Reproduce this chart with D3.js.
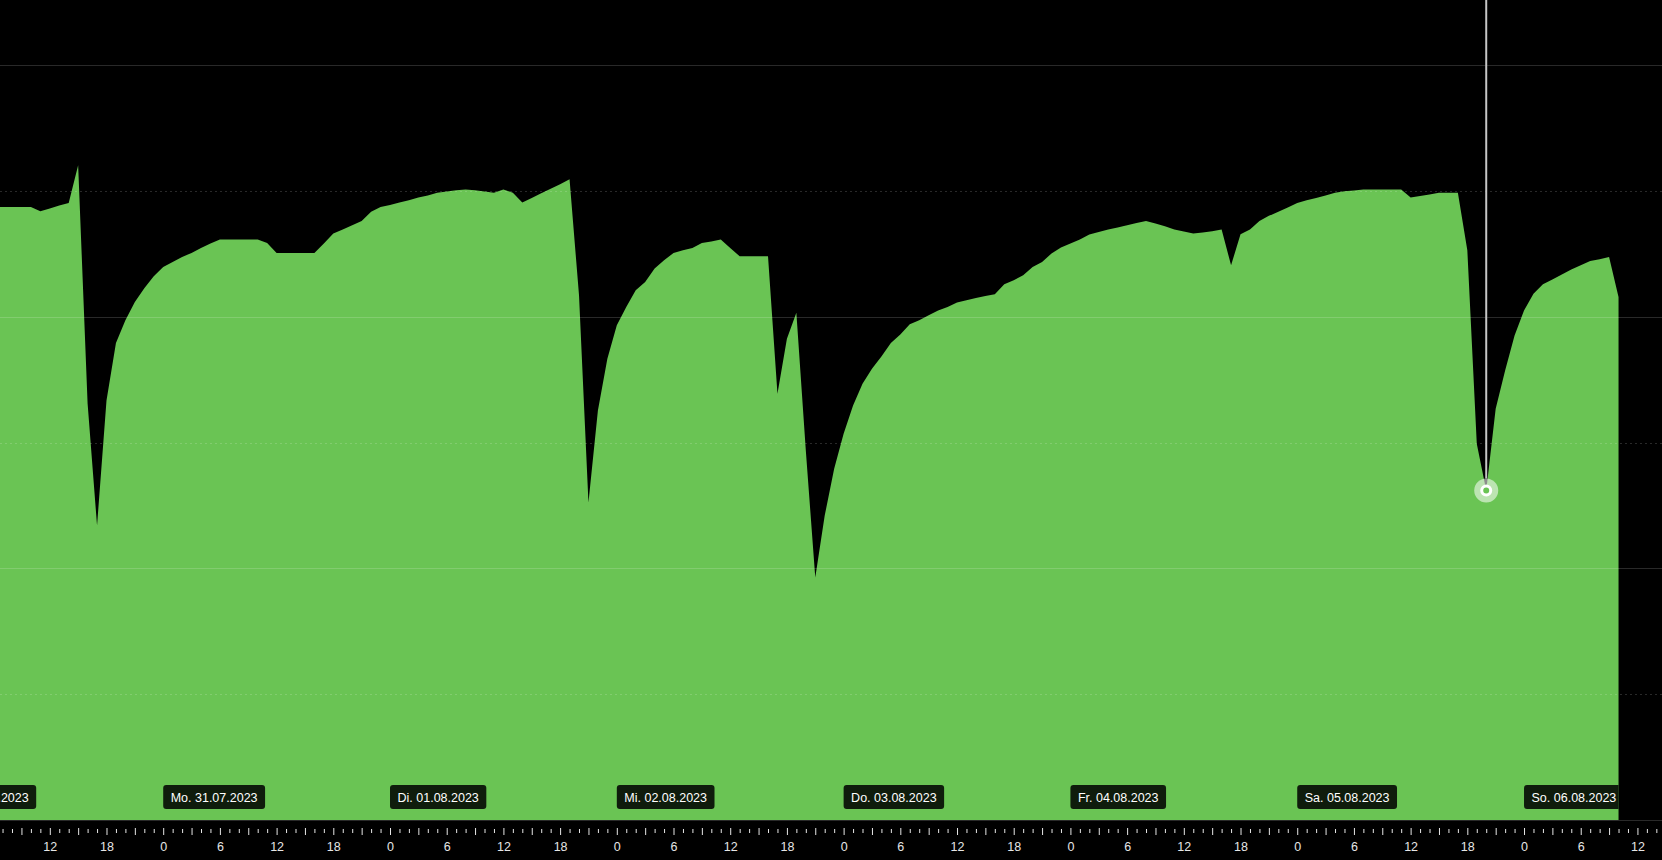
<!DOCTYPE html>
<html><head><meta charset="utf-8">
<script src="https://cdn.jsdelivr.net/npm/d3@7"></script>
<style>html,body{margin:0;padding:0;background:#000;overflow:hidden}</style>
</head><body><svg id="chart" width="1662" height="860"></svg>
<script>
// ---------- data ----------
const seriesStart = "2023-07-30T06:00:00";   // first hourly reading
const values = [
 48.72,48.72,48.72,48.72,48.72,48.38,48.60,48.84,49.04,52.04,
 33.10,23.40,33.34,37.90,39.71,41.16,42.25,43.21,
 43.95,44.35,44.75,45.06,45.46,45.81,46.13,46.13,46.13,46.13,46.13,45.86,
 45.06,45.06,45.06,45.06,45.06,45.81,46.61,46.93,47.27,47.61,48.33,48.72,
 48.88,49.07,49.26,49.47,49.63,49.84,49.95,50.05,50.11,50.05,49.95,49.84,
 50.11,49.84,49.07,49.44,49.81,50.16,50.53,50.93,41.70,25.23,32.55,36.66,
 39.31,40.77,42.10,42.76,43.82,44.48,45.06,45.28,45.46,45.86,45.97,46.13,
 45.46,44.80,44.80,44.80,44.80,33.88,38.25,40.32,29.36,19.28,24.19,27.91,
 30.69,32.94,34.67,35.86,36.84,37.90,38.59,39.39,39.71,40.11,40.50,40.77,
 41.12,41.30,41.48,41.64,41.78,42.57,42.89,43.29,43.95,44.35,45.02,45.49,
 45.81,46.13,46.53,46.73,46.93,47.08,47.27,47.45,47.61,47.40,47.19,46.93,
 46.77,46.61,46.69,46.79,46.93,44.08,46.55,46.93,47.61,48.01,48.33,48.68,
 49.04,49.26,49.44,49.63,49.84,49.97,50.03,50.11,50.11,50.11,50.11,50.11,
 49.47,49.58,49.71,49.84,49.84,49.84,45.28,29.90,26.18,32.68,35.73,38.51,
 40.50,41.83,42.57,42.95,43.35,43.74,44.08,44.43,44.56,44.75,41.56
];
const dayStarts = ["2023-07-30","2023-07-31","2023-08-01","2023-08-02","2023-08-03","2023-08-04","2023-08-05","2023-08-06"];
const dayLabels = ["So. 30.07.2023","Mo. 31.07.2023","Di. 01.08.2023","Mi. 02.08.2023","Do. 03.08.2023","Fr. 04.08.2023","Sa. 05.08.2023","So. 06.08.2023"];
const hourLabelEvery = 6;
const viewStart = "2023-07-30T06:43:50";
const viewEnd   = "2023-08-06T14:36:00";
const gridValues = [0,10,20,30,40,50,60];
const cursorTime = "2023-08-05T20:00:00";

// ---------- setup ----------
const W = 1662, H = 860;
const plotTop = 65, plotBottom = 820;
const green = "#6ac454";
const svg = d3.select("#chart");
svg.append("rect").attr("width", W).attr("height", H).attr("fill", "#000");

const t0 = new Date(seriesStart);
const data = values.map((v, i) => ({ t: new Date(t0.getTime() + i * 3600e3), v }));

const x = d3.scaleTime().domain([new Date(viewStart), new Date(viewEnd)]).range([0, W]);
const y = d3.scaleLinear().domain([0, 60]).range([plotBottom, plotTop]);

// area
const area = d3.area().x(d => x(d.t)).y0(y(0)).y1(d => y(d.v));
svg.append("path").datum(data).attr("d", area).attr("fill", green);

// gridlines (drawn over the area)
svg.append("g").selectAll("line").data(gridValues).join("line")
  .attr("x1", 0).attr("x2", W)
  .attr("y1", d => Math.round(y(d)) + 0.5).attr("y2", d => Math.round(y(d)) + 0.5)
  .attr("stroke", "rgba(255,255,255,0.16)").attr("stroke-width", 1)
  .attr("stroke-dasharray", d => (d % 20 === 0) ? null : "2,3");

// date label boxes, clipped to data extent
const lastX = x(data[data.length - 1].t);
svg.append("clipPath").attr("id", "dclip").append("rect")
  .attr("x", 0).attr("y", 0).attr("width", lastX).attr("height", H);
const dg = svg.append("g").attr("clip-path", "url(#dclip)");
dayStarts.forEach((ds, i) => {
  const px = x(new Date(ds + "T00:00:00"));
  const g = dg.append("g");
  const rect = g.append("rect").attr("x", px).attr("y", 785).attr("height", 24)
    .attr("rx", 3).attr("ry", 3).attr("fill", "rgba(0,0,0,0.86)");
  const txt = g.append("text").attr("x", px + 7.5).attr("y", 801.5)
    .attr("fill", "#ffffff").attr("font-family", "'Liberation Sans', Arial, sans-serif")
    .attr("font-size", "12.5px").text(dayLabels[i]);
  rect.attr("width", txt.node().getComputedTextLength() + 15);
});

// bottom time axis
const axis = d3.axisBottom(x)
  .ticks(d3.timeHour.every(1))
  .tickSize(5)
  .tickPadding(0)
  .tickFormat(d => d.getHours() % hourLabelEvery === 0 ? String(d.getHours()) : "");
const ag = svg.append("g").attr("transform", "translate(0,828)").call(axis);
ag.select(".domain").remove();
ag.selectAll(".tick line")
  .attr("stroke", "#e6e6e6")
  .attr("y1", d => d.getHours() % 3 === 0 ? 0 : 1)
  .attr("y2", d => d.getHours() % 3 === 0 ? 7 : 5);
ag.selectAll(".tick text")
  .attr("y", 23).attr("dy", null)
  .attr("fill", "#e6e6e6")
  .attr("font-family", "'Liberation Sans', Arial, sans-serif")
  .attr("font-size", "12.5px");

// cursor + highlighted point
const ct = new Date(cursorTime);
const cd = data.find(d => d.t.getTime() === ct.getTime());
const cx = x(cd.t), cy = y(cd.v);
svg.append("line").attr("x1", cx).attr("x2", cx).attr("y1", 0).attr("y2", cy - 12)
  .attr("stroke", "#c6c6c6").attr("stroke-width", 2);
svg.append("circle").attr("cx", cx).attr("cy", cy).attr("r", 12)
  .attr("fill", "rgba(255,255,255,0.55)");
svg.append("circle").attr("cx", cx).attr("cy", cy).attr("r", 4.5)
  .attr("fill", green).attr("stroke", "#ffffff").attr("stroke-width", 3);
</script>
</body></html>
